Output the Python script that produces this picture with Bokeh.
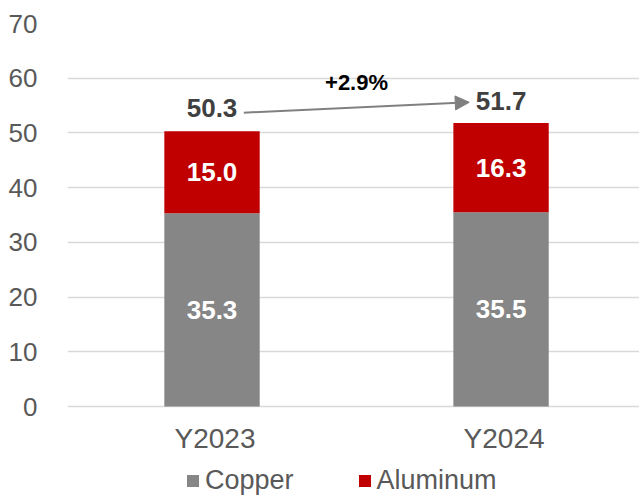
from bokeh.plotting import figure
from bokeh.models import (ColumnDataSource, Range1d, FixedTicker, Legend, LegendItem,
                          Arrow, NormalHead, Label)
from bokeh.core.properties import value
from bokeh.embed import file_html
from bokeh.resources import INLINE

# ---- data ----
years = ["Y2023", "Y2024"]
copper = [35.3, 35.5]
aluminum = [15.0, 16.3]
totals = [50.3, 51.7]
growth_label = "+2.9%"
y_ticks = [0, 10, 20, 30, 40, 50, 60, 70]

FONT = "Liberation Sans"
GRAY = "#868686"
RED = "#c00000"

xs = [i + 1 for i in range(len(years))]

src = ColumnDataSource(dict(
    x=xs, copper=copper, aluminum=aluminum, total=totals,
    base=[0] * len(xs), year=years,
    cu_mid=[c / 2 for c in copper],
    al_mid=[c + a / 2 for c, a in zip(copper, aluminum)],
    cu_lbl=[f"{v:.1f}" for v in copper],
    al_lbl=[f"{v:.1f}" for v in aluminum],
    tot_lbl=[f"{v:.1f}" for v in totals],
))

# layout: value axis 0..70 over 383 px, frame extended 90 px below zero for labels/legend
PX_PER_UNIT = 383 / 70
y_min = -90 / PX_PER_UNIT

p = figure(output_backend="svg", toolbar_location=None,
           frame_width=572, frame_height=473, x_axis_location=None,
           x_range=Range1d(0.5, 2.479), y_range=Range1d(y_min, 70),
           min_border_left=67, min_border_top=23, min_border_bottom=0,
           min_border_right=0)
p.outline_line_color = None
p.background_fill_color = "white"

r = p.vbar_stack(["copper", "aluminum"], x="x", width=0.33, source=src,
                 color=[GRAY, RED], line_color=None)

# segment labels
p.text(x="x", y="cu_mid", text="cu_lbl", source=src, text_color="white",
       text_font=value(FONT), text_font_style="bold", text_font_size="26px",
       text_align="center", text_baseline="middle")
p.text(x="x", y="al_mid", text="al_lbl", source=src, text_color="white",
       text_font=value(FONT), text_font_style="bold", text_font_size="26px",
       text_align="center", text_baseline="middle")
# totals
p.text(x="x", y="total", text="tot_lbl", source=src, text_color="#404040",
       text_font=value(FONT), text_font_style="bold", text_font_size="26px",
       text_align="center", text_baseline="middle", y_offset=-23)
# category labels
p.text(x="x", y="base", text="year", source=src, text_color="#595959",
       text_font=value(FONT), text_font_size="28px",
       text_align="center", text_baseline="middle", y_offset=32, x_offset=3)

# growth arrow
p.add_layout(Arrow(x_start=xs[0] + 0.11, y_start=totals[0] + 3.4,
                   x_end=xs[1] - 0.11, y_end=totals[1] + 3.9,
                   line_color="#808080", line_width=2,
                   end=NormalHead(size=14, fill_color="#808080", line_color="#808080")))
p.add_layout(Label(x=(xs[0] + xs[1]) / 2, y=(totals[0] + totals[1]) / 2 + 8.2,
                   text=growth_label, text_font=FONT, text_font_style="bold",
                   text_font_size="22px", text_color="black",
                   text_align="center", text_baseline="middle"))

# value axis
p.yaxis.ticker = FixedTicker(ticks=y_ticks)
p.yaxis.axis_line_color = None
p.yaxis.major_tick_line_color = None
p.yaxis.minor_tick_line_color = None
p.yaxis.major_label_text_font = FONT
p.yaxis.major_label_text_font_size = "26px"
p.yaxis.major_label_text_color = "#595959"
p.yaxis.major_label_standoff = 24

p.xgrid.grid_line_color = None
p.ygrid.ticker = FixedTicker(ticks=y_ticks)
p.ygrid.grid_line_color = "#d9d9d9"
p.ygrid.grid_line_width = 1.5

legend = Legend(items=[LegendItem(label="Copper", renderers=[r[0]]),
                       LegendItem(label="Aluminum", renderers=[r[1]])],
                location=(118, 0), orientation="horizontal",
                glyph_width=15, glyph_height=15, label_standoff=5, spacing=63,
                padding=0, margin=0, border_line_color=None,
                background_fill_alpha=0,
                label_text_font=FONT, label_text_font_size="27px",
                label_text_color="#595959")
p.add_layout(legend, "center")

open("out.html", "w").write(file_html(p, INLINE))
